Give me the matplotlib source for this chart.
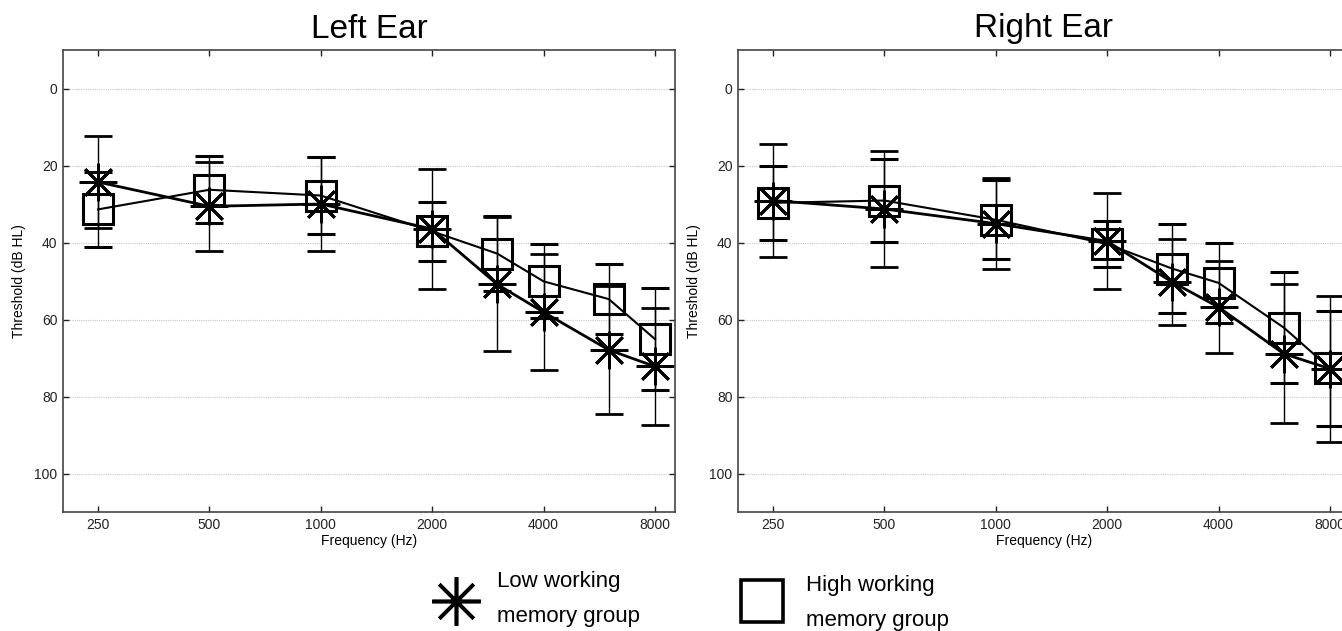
import matplotlib
matplotlib.use("Agg")
import matplotlib.pyplot as plt
from matplotlib.lines import Line2D
from matplotlib.ticker import FixedLocator, FixedFormatter, NullLocator

plt.rcParams['font.family'] = ['Liberation Sans', 'DejaVu Sans']

# ---- data ----
freqs = [250, 500, 1000, 2000, 3000, 4000, 6000, 8000]
xtick_vals = [250, 500, 1000, 2000, 4000, 8000]
xtick_labels = ['250', '500', '1000', '2000', '4000', '8000']
ytick_vals = [0, 20, 40, 60, 80, 100]

left_low_mean = [24.3, 30.6, 30.0, 36.5, 50.9, 58.1, 67.9, 72.2]
left_low_sd = [11.9, 11.6, 12.1, 15.5, 17.4, 15.1, 16.6, 15.1]
left_high_mean = [31.4, 26.3, 27.8, 37.1, 42.9, 50.1, 54.7, 65.1]
left_high_sd = [9.8, 8.7, 10.0, 7.7, 9.8, 9.6, 9.0, 13.3]

right_low_mean = [29.1, 31.3, 35.1, 39.7, 50.3, 56.8, 68.9, 72.8]
right_low_sd = [14.7, 15.1, 11.8, 12.5, 11.2, 12.0, 18.0, 19.0]
right_high_mean = [29.7, 29.1, 34.1, 40.4, 46.8, 50.5, 62.1, 72.7]
right_high_sd = [9.6, 10.7, 10.3, 6.0, 11.5, 10.3, 14.4, 15.0]

titles = ['Left Ear', 'Right Ear']
legend_labels = ['Low working\nmemory group', 'High working\nmemory group']

W, H = 1342, 631
fig = plt.figure(figsize=(W / 100, H / 100), dpi=100)

ast = (8, 2, 0)

def px_rect(x0, y0, x1, y1):
    return [x0 / W, 1 - y1 / H, (x1 - x0) / W, (y1 - y0) / H]

axes_boxes = [px_rect(63, 50, 675, 512), px_rect(738, 50, 1350, 512)]
datasets = [
    (left_low_mean, left_low_sd, left_high_mean, left_high_sd),
    (right_low_mean, right_low_sd, right_high_mean, right_high_sd),
]

for box, title, (lm, ls, hm, hs) in zip(axes_boxes, titles, datasets):
    ax = fig.add_axes(box)
    ax.set_xscale('log', base=2)
    ax.set_xlim(201, 9060)
    ax.set_ylim(110, -10)
    ax.xaxis.set_major_locator(FixedLocator(xtick_vals))
    ax.xaxis.set_major_formatter(FixedFormatter(xtick_labels))
    ax.xaxis.set_minor_locator(NullLocator())
    ax.set_yticks(ytick_vals)
    ax.yaxis.grid(True, color='#c8c8c8', linestyle=(0, (1, 1)), linewidth=0.8)
    ax.set_axisbelow(True)
    ax.tick_params(direction='in', length=4, width=1.0, top=True, right=True,
                   labelsize=10, colors='#222222', pad=4)
    for sp in ax.spines.values():
        sp.set_linewidth(1.2)
        sp.set_color('#444444')

    ax.errorbar(freqs, lm, yerr=ls, color='black', marker=ast, markersize=27,
                markeredgewidth=2.0, mfc='none', linewidth=2.0,
                elinewidth=1.0, capsize=10, capthick=1.0)
    ax.errorbar(freqs, hm, yerr=hs, color='black', marker='s', markersize=21,
                markeredgewidth=2.2, mfc='none', linewidth=1.5,
                elinewidth=1.0, capsize=10, capthick=1.0)

    ax.set_title(title, fontsize=24, pad=9)
    ax.set_xlabel('Frequency (Hz)', fontsize=10, labelpad=2)
    ax.set_ylabel('Threshold (dB HL)', fontsize=10, labelpad=6)

# ---- legend ----
fig.add_artist(Line2D([456 / W], [1 - 601 / H], transform=fig.transFigure,
                      marker=ast, markersize=35, markeredgewidth=2.6,
                      color='black', mfc='none', linestyle='none'))
fig.add_artist(Line2D([762 / W], [1 - 601 / H], transform=fig.transFigure,
                      marker='s', markersize=30, markeredgewidth=2.6,
                      color='black', mfc='none', linestyle='none'))
fig.text(497 / W, 1 - 599 / H, legend_labels[0], fontsize=16, va='center',
         ha='left', linespacing=1.85)
fig.text(806 / W, 1 - 603 / H, legend_labels[1], fontsize=16, va='center',
         ha='left', linespacing=1.85)

fig.savefig('out.png', dpi=100)
